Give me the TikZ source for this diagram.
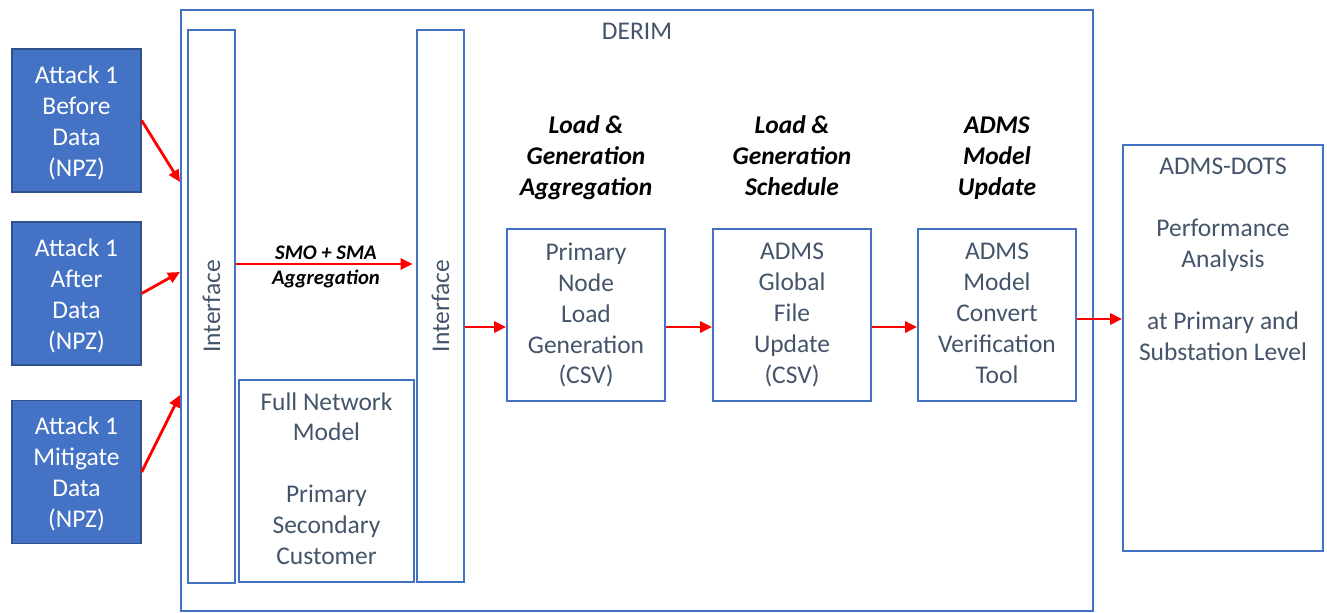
\documentclass[tikz,border=0pt]{standalone}
\usepackage{fontspec}
\setmainfont{Carlito}
\usetikzlibrary{arrows.meta}
\definecolor{boxblue}{HTML}{4472C4}
\definecolor{darkblue}{HTML}{2F528F}
\definecolor{slate}{HTML}{44546A}

\begin{document}
\begin{tikzpicture}[x=0.02cm,y=-0.02cm,
  txt/.style={font=\fontsize{14.5}{17.6}\selectfont},
  struts/.style={execute at begin node=\strut,execute at end node=\strut},
  boxtext/.style={txt,struts,align=center,text=slate,yshift=-1.7pt},
  whitetext/.style={boxtext,text=white,yshift=-1.2pt},
  attack/.style={draw=darkblue,line width=0.8pt,fill=boxblue,minimum width=2.58cm,minimum height=2.86cm},
  frame/.style={draw=boxblue,line width=1pt,inner sep=0pt},
  step box/.style={frame,minimum width=3.16cm,minimum height=3.44cm},
  head/.style={struts,align=center,font=\fontsize{14.5}{17.6}\selectfont\bfseries\itshape},
  flow/.style={red,line width=1.6pt,-{Triangle[length=0.24cm,width=0.22cm]}}]
\useasboundingbox (0,0) rectangle (1327,612);
% inputs
\node[attack,label={[whitetext]center:{Attack 1\\Before\\Data\\(NPZ)}}] (b1) at (76.5,120.5) {};
\node[attack,label={[whitetext]center:{Attack 1\\After\\Data\\(NPZ)}}] (b2) at (76.5,293.5) {};
\node[attack,label={[whitetext]center:{Attack 1\\Mitigate\\Data\\(NPZ)}}] (b3) at (76.5,472) {};
% DERIM frame
\node[frame,minimum width=18.24cm,minimum height=12.02cm] (derim) at (637,310.5) {};
\node[txt,text=slate] (derimname) at (637,31) {DERIM};
\node[frame,minimum width=0.94cm,minimum height=11.06cm] (ifl) at (211.5,306.5) {};
\node[txt,text=slate,rotate=90] at (ifl) {Interface};
\node[frame,minimum width=0.94cm,minimum height=11.04cm] (ifr) at (440.5,306) {};
\node[txt,text=slate,rotate=90] at (ifr) {Interface};
\node[frame,minimum width=3.5cm,minimum height=4.04cm,
  label={[boxtext,yshift=0.5pt]center:{Full Network\\Model\\[17.6pt]Primary\\Secondary\\Customer}}] (full) at (326.5,481) {};
\node[struts,align=center,font=\fontsize{11.8}{14.2}\selectfont\bfseries\itshape] (smo) at (326,269) {SMO + SMA\\Aggregation};
% stages
\node[head] (h1) at (586,160.5) {Load \&\\Generation\\Aggregation};
\node[head] (h2) at (792,160.5) {Load \&\\Generation\\Schedule};
\node[head] (h3) at (997,160.5) {ADMS\\Model\\Update};
\node[step box,label={[boxtext]center:{Primary\\Node\\Load\\Generation\\(CSV)}}] (pn) at (586,315) {};
\node[step box,label={[boxtext]center:{ADMS\\Global\\File\\Update\\(CSV)}}] (glob) at (792,315) {};
\node[step box,label={[boxtext]center:{ADMS\\Model\\Convert\\Verification\\Tool}}] (conv) at (997,315) {};
% output
\node[frame,minimum width=4cm,minimum height=8.12cm] (dots) at (1223,348) {};
\node[txt,struts,text=slate,align=center] (dotstext) at (1223,264)
  {ADMS-DOTS\\[17.6pt]Performance\\Analysis\\[17.6pt]at Primary and\\Substation Level};
% arrows
\coordinate (in1) at (180,182);
\coordinate (in2) at (180,272);
\coordinate (in3) at (180,395);
\coordinate (smorow) at (0,264);
\coordinate (row) at (0,327);
\coordinate (row2) at (0,319);
\draw[flow] (b1.east) -- (in1);
\draw[flow] (b2.east) -- (in2);
\draw[flow] (b3.east) -- (in3);
\draw[flow] (ifl.east |- smorow) -- ([xshift=-2pt]ifr.west |- smorow);
\draw[flow] (ifr.east |- row) -- (pn.west |- row);
\draw[flow] (pn.east |- row) -- (glob.west |- row);
\draw[flow] (glob.east |- row) -- (conv.west |- row);
\draw[flow] (conv.east |- row2) -- (dots.west |- row2);
\end{tikzpicture}
\end{document}
